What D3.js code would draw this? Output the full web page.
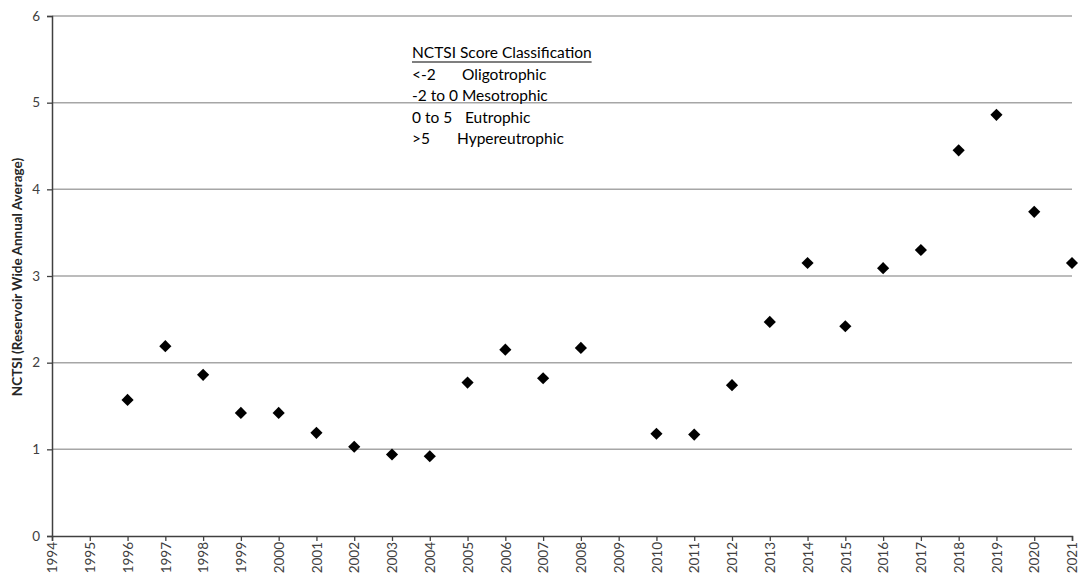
<!DOCTYPE html>
<html>
<head>
<meta charset="utf-8">
<script src="https://cdn.jsdelivr.net/npm/d3@7"></script>
<style>
  html, body { margin: 0; padding: 0; background: #fff; }
  svg { display: block; }
  text { font-family: Lato, "Open Sans", sans-serif; }
</style>
</head>
<body>
<svg id="chart" width="1078" height="583"></svg>
<script>
const years = d3.range(1994, 2022);
const dataYears = [1996,1997,1998,1999,2000,2001,2002,2003,2004,2005,2006,2007,2008,
                   2010,2011,2012,2013,2014,2015,2016,2017,2018,2019,2020,2021];
const nctsi = [1.57,2.19,1.86,1.42,1.42,1.19,1.03,0.94,0.92,1.77,2.15,1.82,2.17,
               1.18,1.17,1.74,2.47,3.15,2.42,3.09,3.30,4.45,4.86,3.74,3.15];
const yTicks = [0,1,2,3,4,5,6];
const legendTitle = "NCTSI Score Classification";
const legendRange = ["<-2", "-2 to 0 Mesotrophic", "0 to 5", ">5"];
const legendClass = ["Oligotrophic", "", "Eutrophic", "Hypereutrophic"];
const legendClassX = [462, 0, 465, 457];
const yLabel = "NCTSI (Reservoir Wide Annual Average)";

const svg = d3.select("#chart");
const mLeft = 52, mRight = 1072, mTop = 16, mBottom = 536;

const x = d3.scaleLinear().domain([1994, 2021]).range([mLeft, mRight]);
const y = d3.scaleLinear().domain([0, 6]).range([mBottom, mTop]);

// gridlines
svg.append("g").selectAll("line").data(yTicks.filter(d => d > 0)).join("line")
  .attr("x1", mLeft).attr("x2", mRight)
  .attr("y1", d => y(d)).attr("y2", d => y(d))
  .attr("stroke", "#a6a6a6").attr("stroke-width", 1.5);

// y axis
const yAxis = svg.append("g").attr("transform", `translate(${mLeft},0)`)
  .call(d3.axisLeft(y).tickValues(yTicks).tickSize(5).tickPadding(7).tickFormat(d3.format("d")));
yAxis.select(".domain").attr("stroke", "#404040").attr("stroke-width", 1.5);
yAxis.selectAll(".tick line").attr("stroke", "#404040").attr("stroke-width", 1.3);
yAxis.selectAll("text").attr("font-size", 13.5).attr("fill", "#404040")
  .style("font-family", "Lato, sans-serif");

// x axis
const xAxis = svg.append("g").attr("transform", `translate(0,${mBottom})`)
  .call(d3.axisBottom(x).tickValues(years).tickSize(5).tickFormat(d3.format("d")));
xAxis.select(".domain").attr("stroke", "#404040").attr("stroke-width", 1.5);
xAxis.selectAll(".tick line").attr("stroke", "#404040").attr("stroke-width", 1.3);
xAxis.selectAll("text")
  .attr("font-size", 13.5).attr("fill", "#404040")
  .style("font-family", "Lato, sans-serif")
  .attr("text-anchor", "end")
  .attr("dy", "0.35em")
  .attr("transform", "translate(0,6) rotate(-90)")
  .attr("x", 0).attr("y", 0);

// y label
svg.append("text")
  .attr("transform", `translate(22,${(mTop + mBottom) / 2 + 1}) rotate(-90)`)
  .attr("text-anchor", "middle")
  .attr("font-size", 13.5).attr("font-weight", "bold").attr("fill", "#262626")
  .text(yLabel);

// points
const sym = d3.symbol().type(d3.symbolSquare).size(74);
svg.append("g").selectAll("path").data(dataYears.map((yr, i) => ({yr, v: nctsi[i]}))).join("path")
  .attr("d", sym)
  .attr("transform", d => `translate(${x(d.yr)},${y(d.v)}) rotate(45)`)
  .attr("fill", "#000");

// legend text
const lg = svg.append("g").attr("fill", "#000").attr("font-size", 15.5);
const title = lg.append("text").attr("x", 412).attr("y", 58).text(legendTitle);
const tw = title.node().getComputedTextLength();
lg.append("line").attr("x1", 412).attr("x2", 412 + tw).attr("y1", 62).attr("y2", 62)
  .attr("stroke", "#000").attr("stroke-width", 1.2);
legendRange.forEach((t, i) => {
  lg.append("text").attr("x", 412).attr("y", 79.5 + i * 21.5).text(t);
  if (legendClass[i]) lg.append("text").attr("x", legendClassX[i]).attr("y", 79.5 + i * 21.5).text(legendClass[i]);
});
</script>
</body>
</html>
